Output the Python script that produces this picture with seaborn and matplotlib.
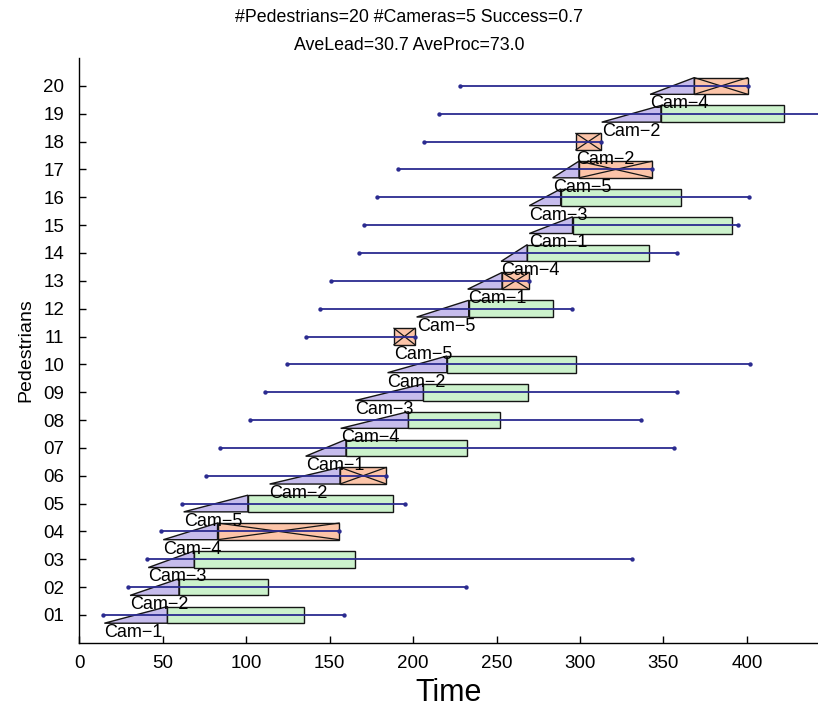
import matplotlib
matplotlib.use("Agg")
import matplotlib.pyplot as plt
from matplotlib.patches import Polygon
import seaborn as sns
import pandas as pd
import numpy as np

# ---- data ----
pedestrians = list(range(1, 21))
arrival = [14.0, 29.3, 40.6, 49.2, 61.4, 75.7, 84.5, 102.0, 111.4, 124.2,
           136.0, 144.2, 150.6, 167.8, 170.8, 178.2, 191.1, 206.7, 215.7, 228.1]
deadline = [158.8, 231.5, 331.0, 155.5, 194.9, 184.0, 356.3, 336.4, 358.4, 401.7,
            201.2, 295.0, 269.4, 357.9, 394.8, 401.4, 343.3, 312.4, 460.0, 400.5]
lead_start = [15.0, 30.4, 41.3, 50.3, 62.5, 114.0, 135.6, 156.6, 165.4, 184.7,
              188.4, 202.1, 232.7, 252.7, 269.6, 269.6, 283.6, 297.4, 313.0, 342.0]
proc_start = [52.8, 59.7, 68.9, 82.8, 101.0, 156.2, 159.8, 197.2, 206.2, 220.2,
              188.4, 233.3, 253.3, 268.4, 295.5, 288.4, 299.4, 297.4, 348.5, 368.5]
proc_end = [134.8, 112.8, 165.0, 155.8, 188.0, 184.0, 232.3, 252.3, 269.1, 297.7,
            201.2, 283.7, 269.4, 341.5, 390.9, 360.5, 343.3, 312.4, 422.4, 400.5]
success = [1, 1, 1, 0, 1, 0, 1, 1, 1, 1, 0, 1, 0, 1, 1, 1, 0, 0, 1, 0]
camera = [1, 2, 3, 4, 5, 2, 1, 4, 3, 2, 5, 5, 1, 4, 1, 3, 5, 2, 2, 4]
tick_labels = [f"{p:02d}" for p in pedestrians]
title_lines = ["#Pedestrians=20 #Cameras=5 Success=0.7", "AveLead=30.7 AveProc=73.0"]

df = pd.DataFrame({"ped": pedestrians, "arrival": arrival, "deadline": deadline,
                   "lead": lead_start, "pstart": proc_start, "pend": proc_end,
                   "ok": success, "cam": camera})

sns.set_theme(style="white")
plt.rcParams["font.family"] = ["Liberation Sans", "DejaVu Sans"]
plt.rcParams["text.color"] = "black"
plt.rcParams["axes.labelcolor"] = "black"

fig = plt.figure(figsize=(8.18, 7.09), dpi=100)
ax = fig.add_axes([0.097, 0.0935, 0.903, 0.8245])

H = 0.3
green = "#ccf2cc"
salmon = "#fcc4a8"
lav = "#c6bcec"
blue = "#2b2b90"

for _, r in df.iterrows():
    y = r["ped"]
    # lead-time triangle
    if r["pstart"] > r["lead"]:
        tri = Polygon([(r["lead"], y - H), (r["pstart"], y + H), (r["pstart"], y - H)],
                      closed=True, facecolor=lav, edgecolor="#151515", lw=1.0, zorder=2)
        ax.add_patch(tri)
    # processing box
    ax.barh(y, r["pend"] - r["pstart"], left=r["pstart"], height=2 * H,
            color=green if r["ok"] else salmon, edgecolor="#151515", lw=1.0, zorder=3)
    if not r["ok"]:
        ax.plot([r["pstart"], r["pend"]], [y - H, y + H], color="#151515", lw=0.9, zorder=4)
        ax.plot([r["pstart"], r["pend"]], [y + H, y - H], color="#151515", lw=0.9, zorder=4)
    ax.text(r["lead"], y - H - 0.03, f"Cam\u2212{int(r['cam'])}", ha="left", va="top",
            fontsize=13, color="black", zorder=6)

# arrival / deadline lines
ax.hlines(df["ped"], df["arrival"], df["deadline"], color=blue, lw=1.3, zorder=5)
pts = pd.concat([df[["arrival", "ped"]].rename(columns={"arrival": "t"}),
                 df[["deadline", "ped"]].rename(columns={"deadline": "t"})])
sns.scatterplot(data=pts, x="t", y="ped", color=blue, s=10, edgecolor=blue,
                linewidth=0, zorder=6, ax=ax)

ax.set_xlim(0, 442.6)
ax.set_ylim(0, 21)
ax.set_xticks(np.arange(0, 401, 50))
ax.set_yticks(pedestrians)
ax.set_yticklabels(tick_labels)
ax.tick_params(direction="in", length=5, width=1, colors="black", left=True, bottom=True)
ax.tick_params(axis="y", labelsize=13.5, pad=11)
ax.tick_params(axis="x", labelsize=13.5, pad=9)
for s in ["top", "right"]:
    ax.spines[s].set_visible(False)
for s in ["left", "bottom"]:
    ax.spines[s].set_color("black")
    ax.spines[s].set_linewidth(1.0)
ax.set_xlabel("Time", fontsize=22, labelpad=4)
ax.set_ylabel("Pedestrians", fontsize=14, labelpad=6)
fig.text(0.5, 0.975, title_lines[0], ha="center", va="center", fontsize=12.8)
fig.text(0.5, 0.936, title_lines[1], ha="center", va="center", fontsize=12.8)

fig.savefig("out.png", dpi=100)
